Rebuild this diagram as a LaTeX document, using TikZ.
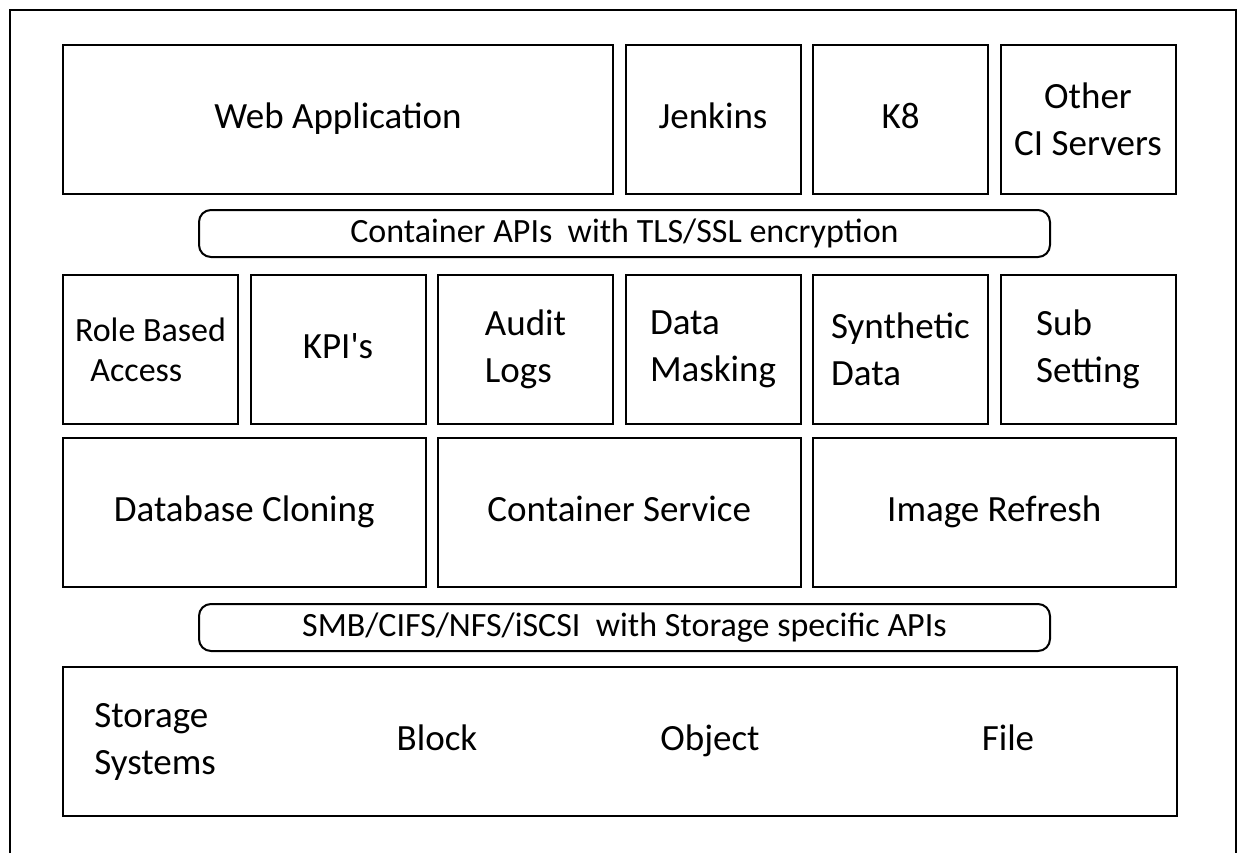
\documentclass[tikz,border=0pt]{standalone}
\usepackage{fontspec}
\setmainfont{Carlito}
\usetikzlibrary{positioning}

\begin{document}
\begin{tikzpicture}[
    x=0.5pt, y=-0.5pt, node distance=6.25pt,
    box/.style={draw, line width=1pt, minimum height=74.5pt, minimum width=87.5pt,
                inner sep=0pt, outer sep=0pt, font=\fontsize{18.5}{23.5}\selectfont},
    pill/.style={draw, line width=1pt, rounded corners=6pt, minimum height=23.5pt,
                minimum width=425.5pt, inner sep=0pt, font=\fontsize{17}{20}\selectfont},
    oneline/.style={text height=13pt, text depth=3.7pt},
    lbl/.style={inner sep=0pt, font=\fontsize{18.5}{23.5}\selectfont}]
  \useasboundingbox (0,0) rectangle (1238,853);
  \draw[line width=1pt] (10,853) -- (10,10) -- (1236,10) -- (1236,853);
  % clients
  \node[box, oneline, minimum width=275pt, anchor=north west] (web) at (63,45) {Web Application};
  \node[box, oneline, right=of web] (jenkins) {Jenkins};
  \node[box, oneline, right=of jenkins] (k8) {K8};
  \node[box, right=of k8, align=center] (ci) {Other\\CI Servers};
  \node[pill, oneline, anchor=north west] (api) at (198,209) {Container APIs\ \ with TLS/SSL encryption};
  % features
  \node[box, anchor=north west, align=left, font=\fontsize{17}{20}\selectfont] (rba) at (63,275)
    {Role Based\\\hspace*{0.45em}Access};
  \node[box, oneline, right=of rba] (kpi) {KPI\textquotesingle s};
  \node[box, right=of kpi, align=left] (audit) {Audit\\Logs};
  \node[box, right=of audit, align=left] (mask) {Data\\Masking};
  \node[box, right=of mask, align=left] (synth) {Synthetic\\Data};
  \node[box, right=of synth, align=left] (subset) {Sub\\Setting};
  % services
  \node[box, oneline, minimum width=181.25pt, anchor=north west] (clone) at (63,438) {Database Cloning};
  \node[box, oneline, minimum width=181.25pt, right=of clone] (csvc) {Container Service};
  \node[box, oneline, minimum width=181.25pt, right=of csvc] (refresh) {Image Refresh};
  \node[pill, oneline, anchor=north west] (proto) at (198,603) {SMB/CIFS/NFS/iSCSI\ \ with Storage specific APIs};
  % storage
  \node[box, minimum width=557pt, anchor=north west] (store) at (63,667) {};
  \node[lbl, anchor=west, align=left] (sys) at ([xshift=15.5pt]store.west) {Storage\\Systems};
  \node[lbl, oneline] (block) at ([xshift=187pt]store.west) {Block};
  \node[lbl, oneline] (object) at ([xshift=323.5pt]store.west) {Object};
  \node[lbl, oneline] (file) at ([xshift=472.5pt]store.west) {File};
\end{tikzpicture}
\end{document}
